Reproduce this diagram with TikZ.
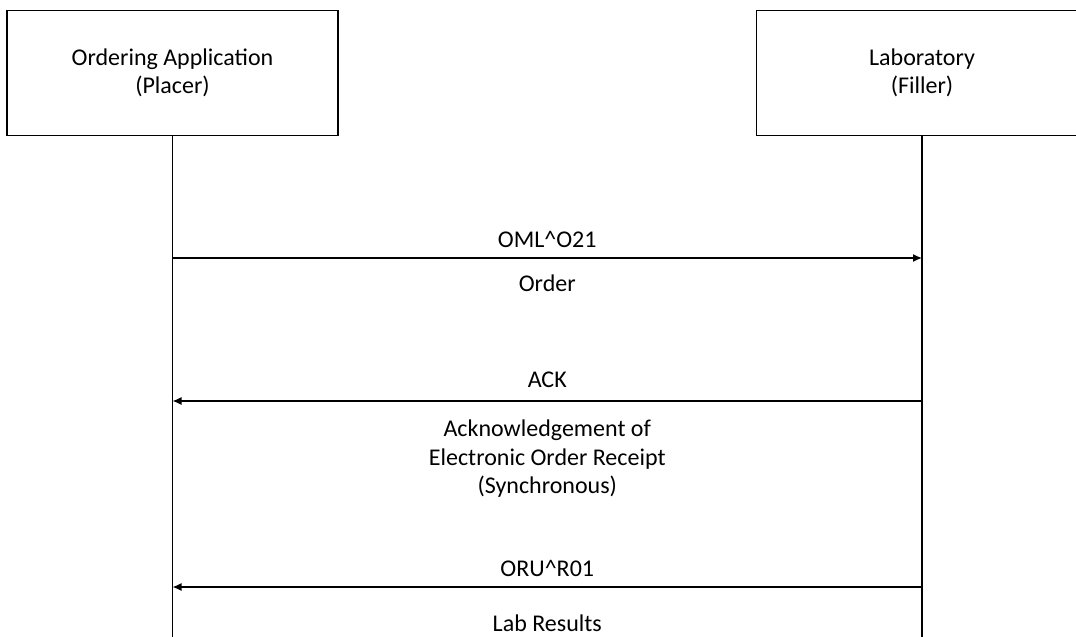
\documentclass[tikz,border=0pt]{standalone}
\usepackage{fontspec}
\setmainfont{Carlito}
\usetikzlibrary{arrows.meta}
\begin{document}
\begin{tikzpicture}[x=1pt, y=-1pt, line width=1.3pt, font=\fontsize{24}{28.5}\selectfont]
    \tikzset{actor/.style={draw, line width=1.1pt, minimum width=331pt, minimum height=125pt, align=center},
             msg/.style={-{Latex[length=9pt, width=8pt]}},
             msglabel/.style={inner sep=0pt, align=center}}
    \useasboundingbox (0,0) rectangle (1076,637);
    \clip (0,0) rectangle (1076,637);
    \node[actor] (placer) at (172.5, 72.8) {Ordering Application\\(Placer)};
    \node[actor] (filler) at (922, 72.8) {Laboratory\\(Filler)};
    \coordinate (placerend) at (172.5, 637);
    \coordinate (fillerend) at (922, 637);
    \draw (placer.south) -- (placerend);
    \draw (filler.south) -- (fillerend);
    % messages
    \coordinate (p1) at (placer.south |- 0,258);
    \coordinate (f1) at (filler.south |- 0,258);
    \coordinate (p2) at (placer.south |- 0,401);
    \coordinate (f2) at (filler.south |- 0,401);
    \coordinate (p3) at (placer.south |- 0,587);
    \coordinate (f3) at (filler.south |- 0,587);
    \draw[msg] (p1) -- (f1) node[msglabel, midway, above=10pt]{OML\textasciicircum O21}
                            node[msglabel, midway, below=16pt]{Order};
    \draw[msg] (f2) -- (p2) node[msglabel, midway, above=13pt]{ACK}
                            node[msglabel, midway, below=18.5pt]{Acknowledgement of\\Electronic Order Receipt\\(Synchronous)};
    \draw[msg] (f3) -- (p3) node[msglabel, midway, above=9.5pt]{ORU\textasciicircum R01}
                            node[msglabel, midway, below=27pt]{Lab Results};
\end{tikzpicture}
\end{document}
